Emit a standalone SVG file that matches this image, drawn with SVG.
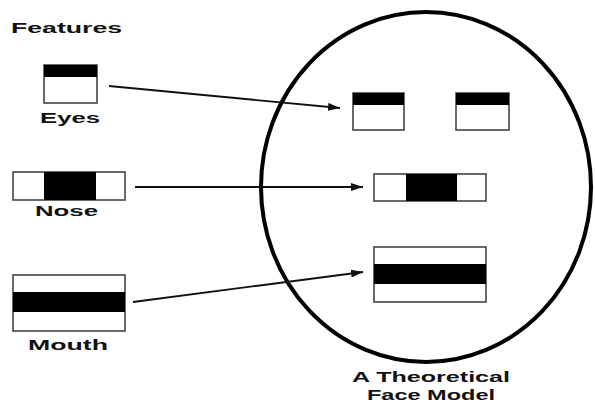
<svg xmlns="http://www.w3.org/2000/svg" width="595" height="403" viewBox="0 0 595 403">
<style>
.box{fill:#fff;stroke:#444;stroke-width:1.6}
.blk{fill:#000}
.lbl{font-family:"Liberation Sans",Arial,sans-serif;font-weight:bold;font-size:14px;fill:#111}
.conn{stroke:#111;stroke-width:1.8;fill:none}
</style>
<defs>
<marker id="ah" viewBox="0 0 12 8" refX="12" refY="4" markerWidth="12" markerHeight="8" markerUnits="userSpaceOnUse" orient="auto">
<path d="M0,0 L12,4 L0,8 Z" fill="#111"/>
</marker>
</defs>
<rect width="595" height="403" fill="#fff"/>
<text class="lbl" x="11" y="33" textLength="111" lengthAdjust="spacingAndGlyphs">Features</text>

<g id="feature-eyes">
<rect class="box" x="44" y="65" width="53" height="38"/>
<rect class="blk" x="44" y="65" width="53" height="12"/>
<text class="lbl" x="40" y="123" textLength="60" lengthAdjust="spacingAndGlyphs">Eyes</text>
</g>
<g id="feature-nose">
<rect class="box" x="13" y="172" width="112" height="28"/>
<rect class="blk" x="44" y="172" width="52" height="28"/>
<text class="lbl" x="35" y="216" textLength="63" lengthAdjust="spacingAndGlyphs">Nose</text>
</g>
<g id="feature-mouth">
<rect class="box" x="13" y="275" width="112" height="56"/>
<rect class="blk" x="13" y="292" width="112" height="20"/>
<text class="lbl" x="28" y="350" textLength="80" lengthAdjust="spacingAndGlyphs">Mouth</text>
</g>

<g id="face">
<ellipse cx="426" cy="187" rx="165" ry="175" fill="none" stroke="#000" stroke-width="4"/>
<g id="face-eye-left">
<rect class="box" x="353" y="93" width="51" height="37"/>
<rect class="blk" x="353" y="93" width="51" height="12"/>
</g>
<g id="face-eye-right">
<rect class="box" x="456" y="93" width="53" height="37"/>
<rect class="blk" x="456" y="93" width="53" height="12"/>
</g>
<g id="face-nose">
<rect class="box" x="374" y="174" width="112" height="27"/>
<rect class="blk" x="406" y="174" width="51" height="27"/>
</g>
<g id="face-mouth">
<rect class="box" x="374" y="247" width="112" height="55"/>
<rect class="blk" x="374" y="264" width="112" height="20"/>
</g>
<text class="lbl" x="352" y="382" textLength="158" lengthAdjust="spacingAndGlyphs">A Theoretical</text>
<text class="lbl" x="367" y="400" font-size="13" textLength="128" lengthAdjust="spacingAndGlyphs">Face Model</text>
</g>

<g id="connectors">
<line class="conn" x1="109" y1="86" x2="340" y2="108" marker-end="url(#ah)"/>
<line class="conn" x1="135" y1="187" x2="363" y2="187" marker-end="url(#ah)"/>
<line class="conn" x1="133" y1="302" x2="363" y2="272" marker-end="url(#ah)"/>
</g>
</svg>
